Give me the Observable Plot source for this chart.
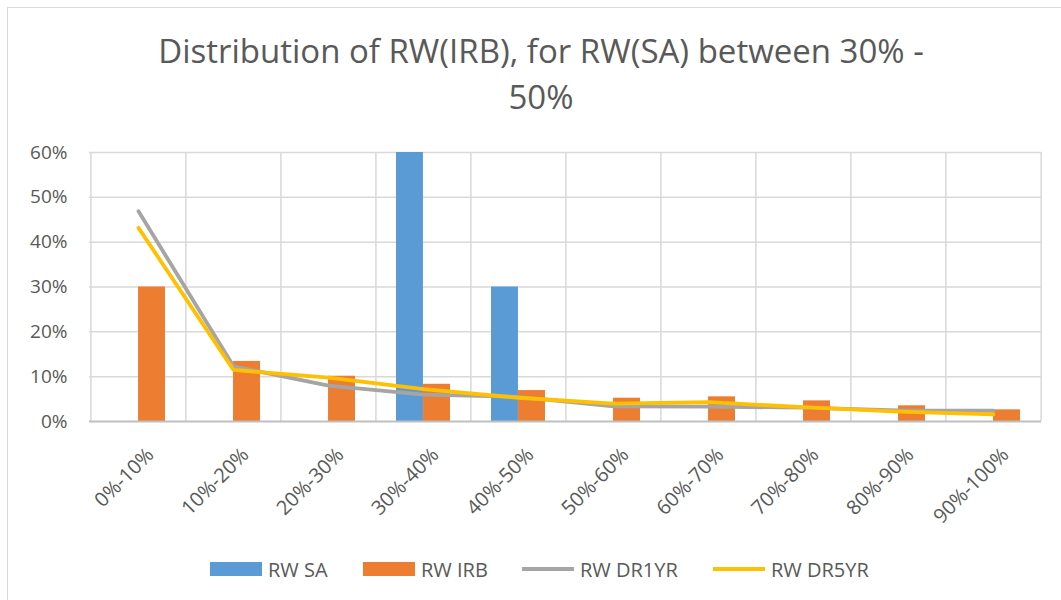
<!DOCTYPE html>
<html>
<head>
<meta charset="utf-8">
<script src="https://cdn.jsdelivr.net/npm/d3@7"></script>
<script src="https://cdn.jsdelivr.net/npm/@observablehq/plot@0.6"></script>
<style>
  html, body { margin: 0; padding: 0; background: #fff; }
  #wrap { position: relative; width: 1061px; height: 600px; overflow: hidden; font-family: "Open Sans", sans-serif; color: #595959; }
  #frame { position: absolute; left: 7px; top: 7px; width: 1070px; height: 610px; border: 1.5px solid #d9d9d9; box-sizing: border-box; }
  #title { position: absolute; left: 0; top: 0; width: 1082px; text-align: center; font-size: 33px; font-weight: 400; line-height: 45.5px; padding-top: 28px; }
  #chart { position: absolute; left: 0; top: 0; }
  #legend { position: absolute; left: 0; top: 555px; width: 1061px; font-size: 20px; }
  .item { position: absolute; display: flex; align-items: center; height: 28px; }
  .sw { width: 52px; height: 14px; margin-right: 6px; }
  .ln { width: 52px; height: 4px; margin-right: 6px; }
</style>
</head>
<body>
<div id="wrap">
  <div id="frame"></div>
  <div id="title"></div>
  <div id="chart"></div>
  <div id="legend"></div>
</div>
<script>
// ---- data ----
const categories = ["0%-10%", "10%-20%", "20%-30%", "30%-40%", "40%-50%", "50%-60%", "60%-70%", "70%-80%", "80%-90%", "90%-100%"];
const rwSA    = [null, null, null, 60, 30, null, null, null, null, null];
const rwIRB   = [30, 13.4, 10.1, 8.3, 6.9, 5.2, 5.5, 4.6, 3.5, 2.6];
const rwDR1YR = [46.9, 12.3, 8.0, 6.0, 5.5, 3.4, 3.3, 3.1, 2.5, 2.4];
const rwDR5YR = [43.2, 11.5, 9.8, 7.2, 5.3, 4.0, 4.3, 3.2, 2.2, 1.6];
const yTicks  = [0, 10, 20, 30, 40, 50, 60];
const seriesNames = ["RW SA", "RW IRB", "RW DR1YR", "RW DR5YR"];
const titleLines = ["Distribution of RW(IRB), for RW(SA) between 30% -", "50%"];

const colors = {"RW SA": "#5b9bd5", "RW IRB": "#ed7d31", "RW DR1YR": "#a5a5a5", "RW DR5YR": "#ffc000"};

// ---- tables ----
const saData  = categories.map((c, i) => ({cat: c, v: rwSA[i]})).filter(d => d.v != null);
const irbData = categories.map((c, i) => ({cat: c, v: rwIRB[i]}));
const dr1Data = categories.map((c, i) => ({cat: c, v: rwDR1YR[i]}));
const dr5Data = categories.map((c, i) => ({cat: c, v: rwDR5YR[i]}));

// ---- layout ----
const W = 1061, H = 560;
const mL = 89, mR = 20, mT = 152, mB = 139;
const step = (W - mL - mR) / categories.length;
const pInner = 0.432;
const bw = step * (1 - pInner);
const half = bw / 2;

const grid = "#d9d9d9";

const chart = Plot.plot({
  width: W,
  height: H,
  marginLeft: mL,
  marginRight: mR,
  marginTop: mT,
  marginBottom: mB,
  style: {fontFamily: "Open Sans, sans-serif", fontSize: "19px", color: "#595959", background: "transparent"},
  x: {type: "band", domain: categories, paddingInner: pInner, paddingOuter: pInner / 2, align: 0.5, label: null},
  y: {domain: [0, 60], label: null},
  marks: [
    Plot.ruleY(yTicks.filter(t => t > 0), {y: d => d, stroke: grid, strokeWidth: 1.5}),
    Plot.ruleX(categories, {x: d => d, dx: -step / 2, stroke: grid, strokeWidth: 1.5}),
    Plot.ruleX([categories[categories.length - 1]], {x: d => d, dx: step / 2, stroke: grid, strokeWidth: 1.5}),
    Plot.barY(saData, {x: "cat", y: "v", fill: colors["RW SA"], insetRight: half}),
    Plot.barY(irbData, {x: "cat", y: "v", fill: colors["RW IRB"], insetLeft: half}),
    Plot.ruleY([0], {stroke: "#bfbfbf", strokeWidth: 2}),
    Plot.line(dr1Data, {x: "cat", y: "v", stroke: colors["RW DR1YR"], strokeWidth: 3.8, strokeLinejoin: "round"}),
    Plot.line(dr5Data, {x: "cat", y: "v", stroke: colors["RW DR5YR"], strokeWidth: 3.8, strokeLinejoin: "round"}),
    Plot.axisY({ticks: yTicks, tickFormat: d => d + "%", tickSize: 0, tickPadding: 22, fill: "#595959", fontSize: 19, label: null}),
    Plot.axisX({tickRotate: -45, tickSize: 0, tickPadding: 30, dx: 12, fill: "#595959", fontSize: 20, label: null})
  ]
});
document.getElementById("chart").appendChild(chart);

// ---- title ----
const t = document.getElementById("title");
titleLines.forEach(s => { const d = document.createElement("div"); d.textContent = s; t.appendChild(d); });

// ---- legend ----
const lg = document.getElementById("legend");
const lefts = [210, 363, 522, 713];
seriesNames.forEach((n, i) => {
  const it = document.createElement("div");
  it.className = "item";
  it.style.left = lefts[i] + "px";
  const sw = document.createElement("div");
  sw.className = i < 2 ? "sw" : "ln";
  sw.style.background = colors[n];
  const tx = document.createElement("span");
  tx.textContent = n;
  it.appendChild(sw); it.appendChild(tx);
  lg.appendChild(it);
});
</script>
</body>
</html>
